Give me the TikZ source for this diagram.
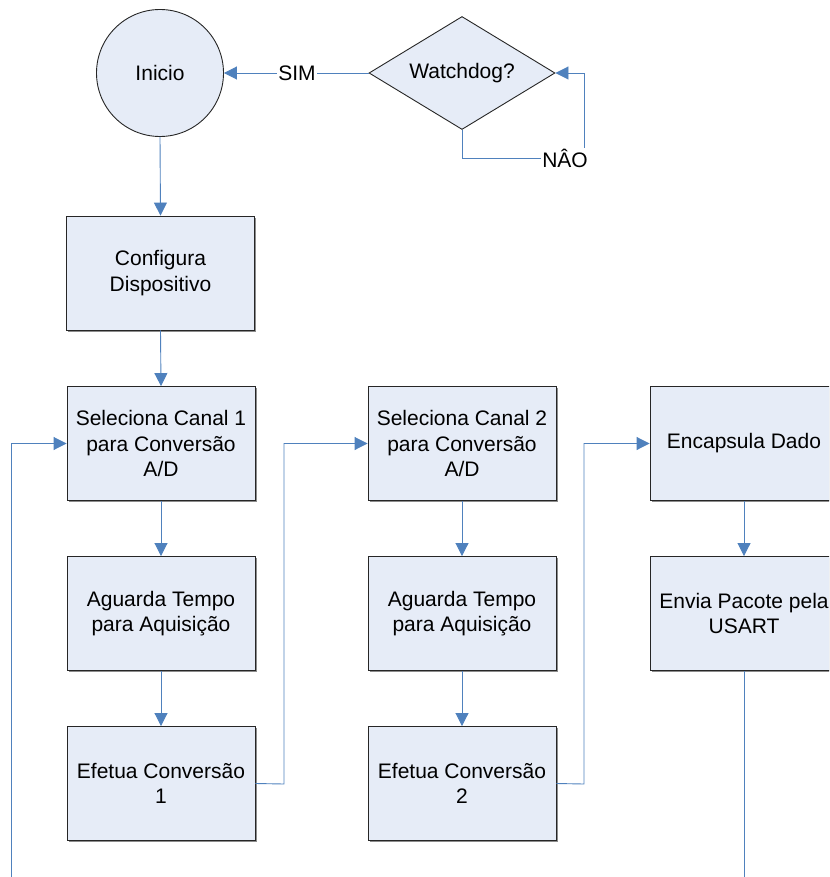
\documentclass[tikz,border=0pt]{standalone}
\usepackage{fontspec}
\setmainfont{Liberation Sans}
\usetikzlibrary{shapes.geometric,arrows.meta,shadows}

\definecolor{boxfill}{RGB}{230,236,247}
\definecolor{flowblue}{RGB}{79,129,189}

\tikzset{
  txt/.style={font=\fontsize{21}{25.5}\selectfont, align=center, text=black},
  proc/.style={txt, draw=black!85, line width=0.9pt, fill=boxfill,
    minimum width=188pt, minimum height=114pt, inner sep=0pt,
    drop shadow={shadow xshift=1.6pt, shadow yshift=-1.6pt, fill=black!45, opacity=1}},
  term/.style={txt, circle, draw=black!85, line width=0.9pt, fill=boxfill,
    minimum size=127pt, inner sep=0pt},
  decide/.style={txt, diamond, draw=black!85, line width=0.9pt, fill=boxfill,
    minimum width=186pt, minimum height=113pt, inner sep=0pt, aspect=1.65},
  flow/.style={draw=flowblue, line width=0.9pt},
  arr/.style={flow, -{Triangle[length=13pt,width=13pt]}},
  lbl/.style={txt, fill=white, inner sep=1pt}
}

\begin{document}
\begin{tikzpicture}[x=1pt,y=-1pt]
  \useasboundingbox (0,0) rectangle (829,877);
  \clip (0,0) rectangle (829,877);

  % start and watchdog test
  \node[term]   (ini) at (160,73) {Inicio};
  \node[decide] (wd)  at (462,73) {Watchdog?};

  % first column
  \node[proc] (cfg) at (160.5,273)   {Configura\\Dispositivo};
  \node[proc] (s1)  at (161,443.5)   {Seleciona Canal 1\\para Conversão\\A/D};
  \node[proc] (a1)  at (161,613.5)   {Aguarda Tempo\\para Aquisição};
  \node[proc] (e1)  at (161,783.5)   {Efetua Conversão\\1};

  % second column
  \node[proc] (s2)  at (462,443.5)   {Seleciona Canal 2\\para Conversão\\A/D};
  \node[proc] (a2)  at (462,613.5)   {Aguarda Tempo\\para Aquisição};
  \node[proc] (e2)  at (462,783.5)   {Efetua Conversão\\2};

  % third column
  \node[proc] (enc) at (744,443.5)   {Encapsula Dado};
  \node[proc] (env) at (744,613.5)   {Envia Pacote pela\\USART};

  % watchdog branches
  \draw[arr] (wd.west) -- (ini.east);
  \node[lbl] (sim) at (297,73) {SIM};
  \coordinate (nc) at (584,158);
  \draw[arr] (wd.south) |- (nc) |- (wd.east);
  \node[lbl] (nao) at (565,158) {NÂO};

  % main sequence
  \draw[arr] (ini.south) -- (cfg.north);
  \draw[arr] (cfg.south) -- (s1.north);
  \draw[arr] (s1.south) -- (a1.north);
  \draw[arr] (a1.south) -- (e1.north);
  \draw[arr] (s2.south) -- (a2.north);
  \draw[arr] (a2.south) -- (e2.north);
  \draw[arr] (enc.south) -- (env.north);

  % column hand-overs
  \coordinate (j1) at (284,784);
  \draw[arr] (e1.east) -- (j1) |- (s2.west);
  \coordinate (j2) at (584,784);
  \draw[arr] (e2.east) -- (j2) |- (enc.west);

  % loop back to channel 1
  \coordinate (lb) at (11,877);
  \draw[arr] (lb) |- (s1.west);
  \coordinate (eb) at (744,877);
  \draw[flow] (env.south) -- (eb);
\end{tikzpicture}
\end{document}
